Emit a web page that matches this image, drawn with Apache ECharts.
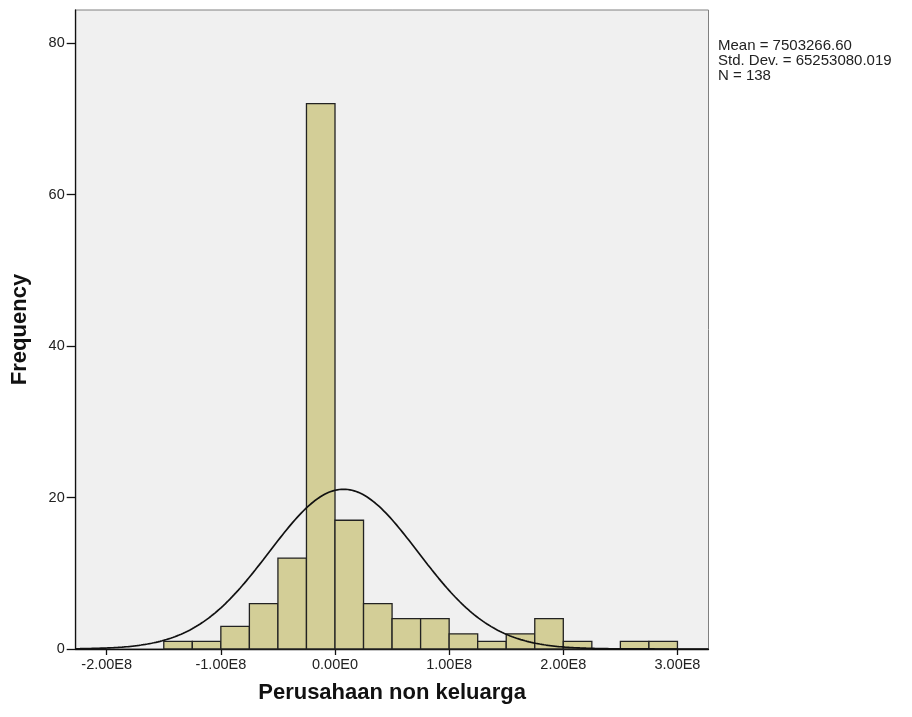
<!DOCTYPE html>
<html>
<head>
<meta charset="utf-8">
<script src="https://cdn.jsdelivr.net/npm/echarts@6/dist/echarts.min.js"></script>
<style>html,body{margin:0;padding:0;background:#fff}#c{width:912px;height:717px}</style>
</head>
<body>
<div id="c"></div>
<script>
// Histogram bins (lower edge, upper edge) and frequencies
var binLower = [-1.5e8,-1.25e8,-1.0e8,-0.75e8,-0.5e8,-0.25e8,0,0.25e8,0.5e8,0.75e8,1.0e8,1.25e8,1.5e8,1.75e8,2.0e8,2.25e8,2.5e8,2.75e8];
var binUpper = [-1.25e8,-1.0e8,-0.75e8,-0.5e8,-0.25e8,0,0.25e8,0.5e8,0.75e8,1.0e8,1.25e8,1.5e8,1.75e8,2.0e8,2.25e8,2.5e8,2.75e8,3.0e8];
var frequencies = [1,1,3,6,12,72,17,6,4,4,2,1,2,4,1,0,1,1];
// Axis ticks
var xTickValues = [-2e8,-1e8,0,1e8,2e8,3e8];
var xTickLabels = ['-2.00E8','-1.00E8','0.00E0','1.00E8','2.00E8','3.00E8'];
var yTickValues = [0,20,40,60,80];
// Summary statistics shown on the chart
var statMean = 7503266.60;
var statStdDev = 65253080.019;
var statN = 138;
var binWidth = 0.25e8;

var xMin = -2.2716e8, xMax = 3.272e8, yMax = 84.36;

var barData = binLower.map(function(lo, i){ return [lo, binUpper[i], frequencies[i]]; });

// Fitted normal curve derived from the displayed mean / std. dev. / N
var curve = [];
var steps = 300;
for (var k = 0; k <= steps; k++) {
  var x = xMin + (xMax - xMin) * k / steps;
  var z = (x - statMean) / statStdDev;
  var y = statN * binWidth / (statStdDev * Math.sqrt(2 * Math.PI)) * Math.exp(-0.5 * z * z);
  curve.push([x, y]);
}

var chart = echarts.init(document.getElementById('c'), null, {renderer:'canvas'});
var font = 'Arial, "Liberation Sans", sans-serif';
chart.setOption({
  animation: false,
  backgroundColor: '#ffffff',
  grid: {left: 75.7, right: 203.5, top: 10, bottom: 68, show: true, backgroundColor: '#f0f0f0', borderColor: '#808080', borderWidth: 1},
  xAxis: {
    type: 'value', min: xMin, max: xMax,
    name: 'Perusahaan non keluarga', nameLocation: 'middle', nameGap: 33,
    nameTextStyle: {fontFamily: font, fontSize: 22, fontWeight: 'bold', color: '#111'},
    axisLine: {show: true, onZero: false, lineStyle: {color: '#111', width: 1.3}},
    axisTick: {show: true, length: 6, lineStyle: {color: '#111', width: 1.3}, customValues: xTickValues},
    axisLabel: {fontFamily: font, fontSize: 14.5, color: '#222', margin: 8, customValues: xTickValues,
      formatter: function(v){ var i = xTickValues.indexOf(v); return i >= 0 ? xTickLabels[i] : ''; }},
    splitLine: {show: false}
  },
  yAxis: {
    type: 'value', min: 0, max: yMax,
    name: 'Frequency', nameLocation: 'middle', nameGap: 45, nameRotate: 90,
    nameTextStyle: {fontFamily: font, fontSize: 22, fontWeight: 'bold', color: '#111'},
    axisLine: {show: true, onZero: false, lineStyle: {color: '#111', width: 1.3}},
    axisTick: {show: true, length: 9, lineStyle: {color: '#111', width: 1.3}, customValues: yTickValues},
    axisLabel: {fontFamily: font, fontSize: 14.5, color: '#222', margin: 11, customValues: yTickValues},
    splitLine: {show: false}
  },
  series: [
    {
      type: 'custom',
      data: barData,
      encode: {x: [0, 1], y: 2},
      renderItem: function(params, api){
        var p0 = api.coord([api.value(0), api.value(2)]);
        var p1 = api.coord([api.value(1), 0]);
        if (api.value(2) <= 0) return null;
        return {type: 'rect', shape: {x: p0[0], y: p0[1], width: p1[0] - p0[0], height: p1[1] - p0[1]},
          style: {fill: '#d3ce97', stroke: '#222', lineWidth: 1.3}};
      },
      z: 2
    },
    {
      type: 'line', data: curve, showSymbol: false, smooth: false,
      lineStyle: {color: '#111', width: 1.7}, z: 3, silent: true
    }
  ],
  graphic: [
    {type: 'text', left: 718, top: 38, style: {
      text: 'Mean = 7503266.60\nStd. Dev. = 65253080.019\nN = 138',
      fontFamily: font, fontSize: 15, lineHeight: 15, fill: '#222'}}
  ]
});
</script>
</body>
</html>
